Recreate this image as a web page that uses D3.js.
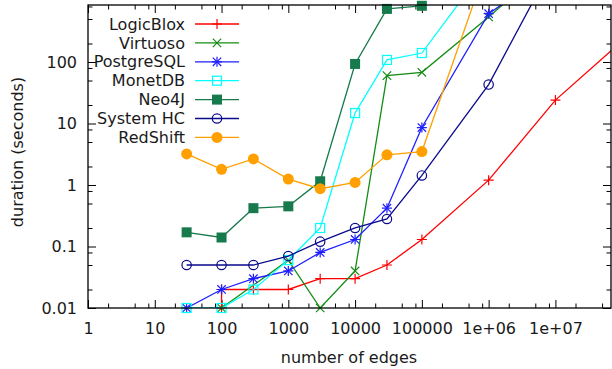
<!DOCTYPE html>
<html>
<head>
<meta charset="utf-8">
<script src="https://cdn.jsdelivr.net/npm/d3@7"></script>
<style>
  body { margin: 0; background: #fff; }
  svg { display: block; font-family: "DejaVu Sans", sans-serif; }
</style>
</head>
<body>
<svg id="chart" width="612" height="369"></svg>
<script>
// Values (x = number of edges, y = seconds)
const logicbloxX = [100, 100, 300, 1000, 3000, 10000, 30000, 100000, 1e6, 1e7, 1e8];
const logicbloxY = [0.01, 0.02, 0.02, 0.02, 0.03, 0.03, 0.05, 0.13, 1.2, 24, 220];
const virtuosoX = [100, 1000, 3000, 10000, 30000, 100000, 1e6, 1e7];
const virtuosoY = [0.01, 0.06, 0.01, 0.04, 60, 68, 540, 4800];
const postgresX = [30, 100, 300, 1000, 3000, 10000, 30000, 100000, 1e6, 1e7];
const postgresY = [0.01, 0.02, 0.03, 0.04, 0.08, 0.13, 0.42, 8.6, 610, 3500];
const monetX = [30, 100, 300, 1000, 3000, 10000, 30000, 100000, 1e6];
const monetY = [0.01, 0.01, 0.02, 0.06, 0.2, 14.8, 108, 140, 4000];
const neoX = [30, 100, 300, 1000, 3000, 10000, 30000, 100000];
const neoY = [0.17, 0.14, 0.42, 0.45, 1.15, 93, 730, 820];
const systemX = [30, 100, 300, 1000, 3000, 10000, 30000, 100000, 1e6, 1e7];
const systemY = [0.05, 0.05, 0.05, 0.07, 0.12, 0.2, 0.28, 1.43, 43, 4600];
const redshiftX = [30, 100, 300, 1000, 3000, 10000, 30000, 100000, 1e6];
const redshiftY = [3.2, 1.8, 2.65, 1.25, 0.87, 1.1, 3.1, 3.5, 4500];

const seriesNames = ["LogicBlox", "Virtuoso", "PostgreSQL", "MonetDB", "Neo4J", "System HC", "RedShift"];
const seriesColors = ["#ff0000", "#148c14", "#1e1eff", "#00ffff", "#177a4c", "#0a0a8c", "#ffa000"];
const seriesMarkers = ["plus", "cross", "star", "square", "squareFilled", "circle", "circleFilled"];
const seriesX = [logicbloxX, virtuosoX, postgresX, monetX, neoX, systemX, redshiftX];
const seriesY = [logicbloxY, virtuosoY, postgresY, monetY, neoY, systemY, redshiftY];

const xTickValues = [1, 10, 100, 1000, 10000, 100000, 1e6, 1e7];
const xTickLabels = ["1", "10", "100", "1000", "10000", "100000", "1e+06", "1e+07"];
const yTickValues = [0.01, 0.1, 1, 10, 100];
const yTickLabels = ["0.01", "0.1", "1", "10", "100"];

// Plot area
const plotLeft = 88, plotRight = 611, plotTop = 5, plotBottom = 308;
const textColor = "#1a1a1a";
const fontSize = 16;

const x = d3.scaleLog().domain([1, 6.8e7]).range([plotLeft, plotRight]);
const y = d3.scaleLog().domain([0.01, 845]).range([plotBottom, plotTop]);

const svg = d3.select("#chart");

// minor ticks at 2, 5, 8 of each decade
function minors(scale) {
    const [a, b] = scale.domain();
    const out = [];
    for (let e = Math.floor(Math.log10(a)); e <= Math.ceil(Math.log10(b)); e++) {
        [2, 5, 8].forEach(m => {
            const v = m * Math.pow(10, e);
            if (v > a && v < b) out.push(v);
        });
    }
    return out;
}

function addAxis(axisFn, scale, pos, vals, size, labels, pad) {
    const ax = axisFn(scale).tickValues(vals).tickSizeInner(size).tickSizeOuter(0);
    if (labels) ax.tickFormat((d, i) => labels[i]).tickPadding(pad);
    else ax.tickFormat("");
    const g = svg.append("g").attr("transform", pos).call(ax);
    g.select(".domain").remove();
    g.selectAll("line").attr("stroke", "#000").attr("stroke-width", 1);
    g.selectAll("text").attr("font-family", "DejaVu Sans").attr("font-size", fontSize).attr("fill", textColor);
}

addAxis(d3.axisBottom, x, `translate(0,${plotBottom})`, xTickValues, -8, xTickLabels, 14.5);
addAxis(d3.axisBottom, x, `translate(0,${plotBottom})`, minors(x), -4.5);
addAxis(d3.axisTop, x, `translate(0,${plotTop})`, xTickValues, -8);
addAxis(d3.axisTop, x, `translate(0,${plotTop})`, minors(x), -4.5);
addAxis(d3.axisLeft, y, `translate(${plotLeft},0)`, yTickValues, -8, yTickLabels, 11);
addAxis(d3.axisLeft, y, `translate(${plotLeft},0)`, minors(y), -4.5);
addAxis(d3.axisRight, y, `translate(${plotRight},0)`, yTickValues, -8);
addAxis(d3.axisRight, y, `translate(${plotRight},0)`, minors(y), -4.5);

// axis titles
svg.append("text")
    .attr("x", 349).attr("y", 363)
    .attr("text-anchor", "middle").attr("font-size", fontSize).attr("fill", textColor)
    .text("number of edges");
svg.append("text")
    .attr("transform", "translate(23,152) rotate(-90)")
    .attr("text-anchor", "middle").attr("font-size", fontSize).attr("fill", textColor)
    .text("duration (seconds)");

svg.append("defs").append("clipPath").attr("id", "plotClip")
    .append("rect").attr("x", plotLeft).attr("y", plotTop)
    .attr("width", plotRight - plotLeft).attr("height", plotBottom - plotTop);

function drawMarker(g, type, cx, cy, color) {
    const h = 5;
    if (type === "plus" || type === "star") {
        g.append("path").attr("d", `M${cx - h},${cy}H${cx + h}M${cx},${cy - h}V${cy + h}`)
            .attr("stroke", color).attr("stroke-width", 1.2).attr("fill", "none");
    }
    if (type === "cross" || type === "star") {
        const c = 4.2;
        g.append("path").attr("d", `M${cx - c},${cy - c}L${cx + c},${cy + c}M${cx - c},${cy + c}L${cx + c},${cy - c}`)
            .attr("stroke", color).attr("stroke-width", 1.2).attr("fill", "none");
    }
    if (type === "square") {
        g.append("rect").attr("x", cx - 4.5).attr("y", cy - 4.5).attr("width", 9).attr("height", 9)
            .attr("stroke", color).attr("stroke-width", 1.2).attr("fill", "none");
    }
    if (type === "squareFilled") {
        g.append("rect").attr("x", cx - 5).attr("y", cy - 5).attr("width", 10).attr("height", 10)
            .attr("fill", color);
    }
    if (type === "circle") {
        g.append("circle").attr("cx", cx).attr("cy", cy).attr("r", 4.7)
            .attr("stroke", color).attr("stroke-width", 1.2).attr("fill", "none");
    }
    if (type === "circleFilled") {
        g.append("circle").attr("cx", cx).attr("cy", cy).attr("r", 5.5).attr("fill", color);
    }
}

const line = d3.line().x(d => x(d[0])).y(d => y(d[1]));
const [xLo, xHi] = x.domain();
const [yLo, yHi] = y.domain();

seriesNames.forEach((name, i) => {
    const pts = seriesX[i].map((v, j) => [v, seriesY[i][j]]);
    const color = seriesColors[i];
    const g = svg.append("g").attr("class", "series");
    g.append("path")
        .datum(pts)
        .attr("d", line)
        .attr("clip-path", "url(#plotClip)")
        .attr("fill", "none")
        .attr("stroke", color)
        .attr("stroke-width", 1.3);
    pts.filter(p => p[0] >= xLo && p[0] <= xHi && p[1] >= yLo && p[1] <= yHi)
        .forEach(p => drawMarker(g, seriesMarkers[i], x(p[0]), y(p[1]), color));

    // legend entry
    const ly = 24 + i * 18.9;
    svg.append("text")
        .attr("x", 185).attr("y", ly).attr("dy", "0.35em")
        .attr("text-anchor", "end").attr("font-size", fontSize).attr("fill", textColor)
        .text(name);
    svg.append("line")
        .attr("x1", 195).attr("x2", 239).attr("y1", ly).attr("y2", ly)
        .attr("stroke", color).attr("stroke-width", 1.3);
    drawMarker(svg, seriesMarkers[i], 217, ly, color);
});

// border
svg.append("rect")
    .attr("x", plotLeft).attr("y", plotTop)
    .attr("width", plotRight - plotLeft).attr("height", plotBottom - plotTop)
    .attr("fill", "none").attr("stroke", "#000").attr("stroke-width", 1.3);
</script>
</body>
</html>
